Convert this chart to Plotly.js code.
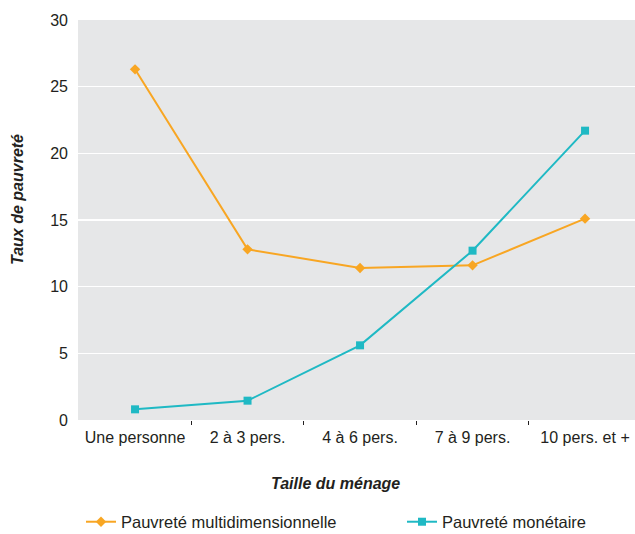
<!DOCTYPE html>
<html>
<head>
<meta charset="utf-8">
<script src="https://cdn.plot.ly/plotly-3.0.1.min.js"></script>
<style>html,body{margin:0;padding:0;background:#fff;}#chart{width:635px;height:534px;}</style>
</head>
<body>
<div id="chart"></div>
<script>
const categories = ["Une personne", "2 à 3 pers.", "4 à 6 pers.", "7 à 9 pers.", "10 pers. et +"];
const multidimensionnelle = [26.3, 12.8, 11.4, 11.6, 15.1];
const monetaire = [0.8, 1.45, 5.6, 12.7, 21.7];
const yTicks = [0, 5, 10, 15, 20, 25, 30];
const seriesNames = ["Pauvreté multidimensionnelle", "Pauvreté monétaire"];

const idx = categories.map((c, i) => i);
const boundaries = categories.slice(1).map((c, i) => i + 0.5);
const textColor = "#231f20";
const font = {family: "Liberation Sans, Arial, sans-serif", size: 16, color: textColor};
const legendFont = {family: "Liberation Sans, Arial, sans-serif", size: 16.5, color: textColor};

const traces = [
  {x: idx, y: multidimensionnelle, name: seriesNames[0], type: "scatter", mode: "lines+markers",
   line: {color: "#f8a623", width: 2}, marker: {symbol: "diamond", size: 8, color: "#f8a623"},
   legend: "legend"},
  {x: idx, y: monetaire, name: seriesNames[1], type: "scatter", mode: "lines+markers",
   line: {color: "#1fb9c4", width: 2}, marker: {symbol: "square", size: 8, color: "#1fb9c4"},
   legend: "legend2"}
];

const legendBase = {orientation: "h", xref: "container", yref: "container", y: 1 - 522/534,
  xanchor: "left", yanchor: "middle", font: legendFont, bgcolor: "rgba(0,0,0,0)", itemwidth: 30};

const layout = {
  width: 635, height: 534,
  margin: {l: 78, r: 0, t: 20, b: 114},
  paper_bgcolor: "#ffffff", plot_bgcolor: "#e6e7e8",
  font: font,
  showlegend: true,
  legend: Object.assign({}, legendBase, {x: 81/635}),
  legend2: Object.assign({}, legendBase, {x: 402/635}),
  xaxis: {
    type: "linear", range: [-0.507, 4.444],
    tickmode: "array", tickvals: idx, ticktext: categories,
    ticks: "", showgrid: false, zeroline: false, showline: false,
    ticklabelstandoff: 6,
    minor: {tickmode: "array", tickvals: boundaries, ticks: "outside", ticklen: 4, tickwidth: 1, tickcolor: textColor, showgrid: false},
    tickfont: font, fixedrange: true
  },
  yaxis: {
    range: [0, 30], tickmode: "array", tickvals: yTicks,
    ticks: "", showgrid: true, gridcolor: "#ffffff", gridwidth: 1.5,
    zeroline: false, showline: false, ticklabelstandoff: 9,
    tickfont: font, fixedrange: true
  },
  annotations: [
    {text: "<b><i>Taux de pauvreté</i></b>", xref: "paper", yref: "paper",
     x: (18 - 78) / 557, y: (420 - 200) / 400, textangle: -90, showarrow: false,
     xanchor: "center", yanchor: "middle", font: font},
    {text: "<b><i>Taille du ménage</i></b>", xref: "paper", yref: "paper",
     x: (335.5 - 78) / 557, y: (420 - 483) / 400, showarrow: false,
     xanchor: "center", yanchor: "middle", font: font}
  ]
};

Plotly.newPlot("chart", traces, layout, {displayModeBar: false, staticPlot: true});
</script>
</body>
</html>
